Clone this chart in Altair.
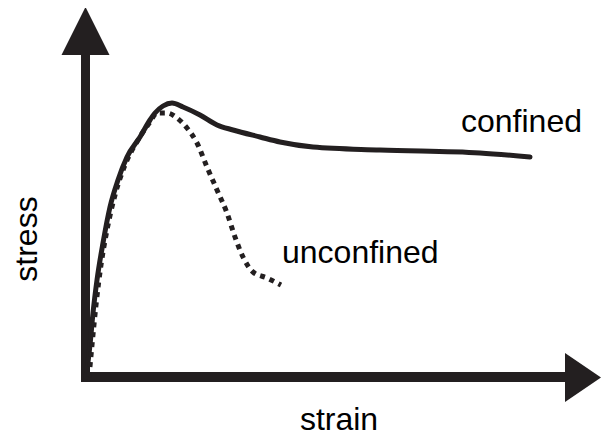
import altair as alt
import pandas as pd

# Schematic stress-strain curves (arbitrary units, origin at the axes corner)
confined_strain = [0, 4, 7, 11, 17, 24, 32, 41, 54, 64, 69, 77, 86, 97, 114, 131, 147, 174, 194, 227, 294, 394, 444]
confined_stress = [0, 32, 64, 97, 134, 170, 197, 220, 240, 257, 264, 271, 274, 270, 262, 252, 247, 240, 235, 230, 227, 224, 220]

unconfined_strain = [3, 6, 10, 15, 21, 29, 39, 52, 64, 71, 81, 91, 101, 111, 121, 131, 141, 149, 157, 167, 181, 195]
unconfined_stress = [0, 32, 72, 112, 147, 182, 212, 237, 255, 264, 264, 259, 249, 234, 210, 187, 164, 140, 120, 105, 99, 92]

labels = ["confined", "unconfined", "strain", "stress"]

INK = "#231f20"
FONT = "Liberation Sans"
FS = 32

conf = pd.DataFrame({"strain": confined_strain, "stress": confined_stress, "i": range(len(confined_strain))})
unconf = pd.DataFrame({"strain": unconfined_strain, "stress": unconfined_stress, "i": range(len(unconfined_strain))})

xs = alt.Scale(domain=[-78, 515], nice=False, zero=False)
ys = alt.Scale(domain=[-60, 369], nice=False, zero=False)


def X(v):
    return alt.XDatum(v, type="quantitative", scale=xs, axis=None)


def Y(v):
    return alt.YDatum(v, type="quantitative", scale=ys, axis=None)


confined_line = alt.Chart(conf).mark_line(
    color=INK, strokeWidth=5, interpolate="monotone", strokeCap="round", strokeJoin="round"
).encode(
    x=alt.X("strain:Q", scale=xs, axis=None),
    y=alt.Y("stress:Q", scale=ys, axis=None),
    order="i:Q",
)

unconfined_line = alt.Chart(unconf).mark_line(
    color=INK, strokeWidth=5, interpolate="monotone", strokeDash=[5, 5], strokeCap="butt"
).encode(
    x=alt.X("strain:Q", scale=xs, axis=None),
    y=alt.Y("stress:Q", scale=ys, axis=None),
    order="i:Q",
)

base = alt.Chart(pd.DataFrame({"a": [0]}))

y_shaft = base.mark_rule(color=INK, strokeWidth=9).encode(
    x=X(-0.5), y=Y(-5), y2=alt.Y2Datum(324)
)
x_shaft = base.mark_rule(color=INK, strokeWidth=10).encode(
    y=Y(0), x=X(-5), x2=alt.X2Datum(481)
)
y_head = base.mark_point(
    shape="M0,-1L-1,1L1,1Z", filled=True, color=INK, opacity=1, size=2304, strokeWidth=0
).encode(x=X(-0.5), y=Y(346))
x_head = base.mark_point(
    shape="M1,0L-1,-1.36L-1,1.36Z", filled=True, color=INK, opacity=1, size=1296, strokeWidth=0
).encode(x=X(497), y=Y(-0.5))

txt_confined = base.mark_text(
    text=labels[0], font=FONT, fontSize=FS, align="left", baseline="alphabetic", color="black"
).encode(x=X(375), y=Y(245))
txt_unconfined = base.mark_text(
    text=labels[1], font=FONT, fontSize=FS, align="left", baseline="alphabetic", color="black"
).encode(x=X(196), y=Y(114))
txt_strain = base.mark_text(
    text=labels[2], font=FONT, fontSize=FS, align="center", baseline="alphabetic", color="black"
).encode(x=X(253), y=Y(-53))
txt_stress = base.mark_text(
    text=labels[3], font=FONT, fontSize=FS, align="center", baseline="alphabetic", angle=270, color="black"
).encode(x=X(-49), y=Y(138))

chart = alt.layer(
    y_shaft, x_shaft, y_head, x_head,
    confined_line, unconfined_line,
    txt_confined, txt_unconfined, txt_strain, txt_stress,
).properties(
    width=593, height=429, padding=0, autosize=alt.AutoSizeParams(type="none"),
    background="white",
).configure_view(stroke=None)

chart.save("out.html", embed_options={"renderer": "svg", "actions": False})
